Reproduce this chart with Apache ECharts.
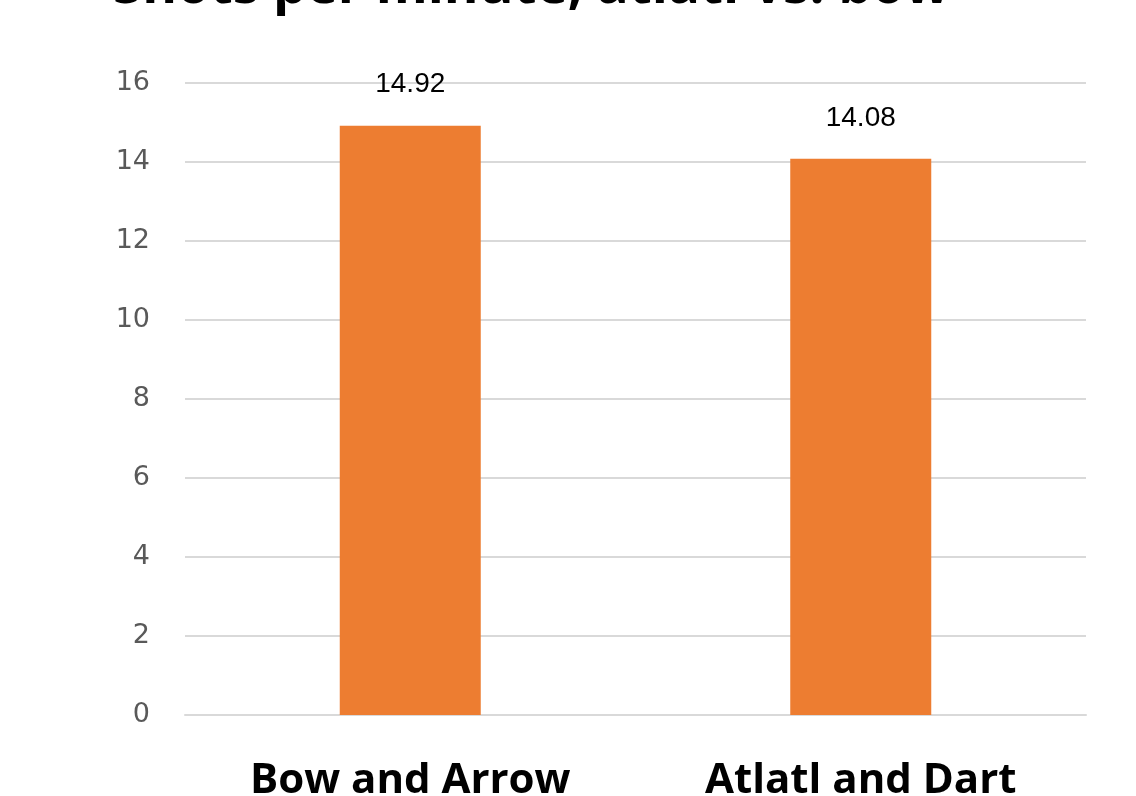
<!DOCTYPE html>
<html>
<head>
<meta charset="utf-8">
<script src="https://cdn.jsdelivr.net/npm/echarts@6/dist/echarts.min.js"></script>
<style>
html, body { margin: 0; padding: 0; background: #fff; }
#chart { width: 1136px; height: 796px; }
</style>
</head>
<body>
<div id="chart"></div>
<script>
var titleText = 'Shots per minute, atlatl vs. bow';
var categories = ['Bow and Arrow', 'Atlatl and Dart'];
var shotsPerMinute = [14.92, 14.08];

var myChart = echarts.init(document.getElementById('chart'));
var option = {
	animation: false,
	title: {
		text: titleText,
		left: 108,
		top: -44,
		textStyle: {
			fontFamily: 'Open Sans',
			fontWeight: 'bold',
			fontSize: 53,
			color: '#000'
		}
	},
	grid: {
		left: 185,
		right: 50,
		top: 83,
		bottom: 81,
		outerBoundsMode: 'none'
	},
	xAxis: {
		type: 'category',
		data: categories,
		axisTick: { show: false },
		axisLine: { lineStyle: { color: '#d9d9d9', width: 2 } },
		axisLabel: {
			margin: 45,
			fontFamily: 'Open Sans',
			fontWeight: 'bold',
			fontSize: 42,
			color: '#000'
		}
	},
	yAxis: {
		type: 'value',
		min: 0,
		max: 16,
		interval: 2,
		axisLine: { show: false },
		axisTick: { show: false },
		splitLine: { lineStyle: { color: '#d9d9d9', width: 2 } },
		axisLabel: {
			margin: 35,
			fontFamily: 'DejaVu Sans',
			fontSize: 27,
			color: '#595959'
		}
	},
	series: [{
		type: 'bar',
		data: shotsPerMinute,
		barWidth: 141,
		itemStyle: { color: '#ed7d31' },
		label: {
			show: true,
			position: 'top',
			distance: 27,
			fontFamily: 'Liberation Sans',
			fontSize: 28,
			color: '#000'
		}
	}]
};
myChart.setOption(option);
</script>
</body>
</html>
